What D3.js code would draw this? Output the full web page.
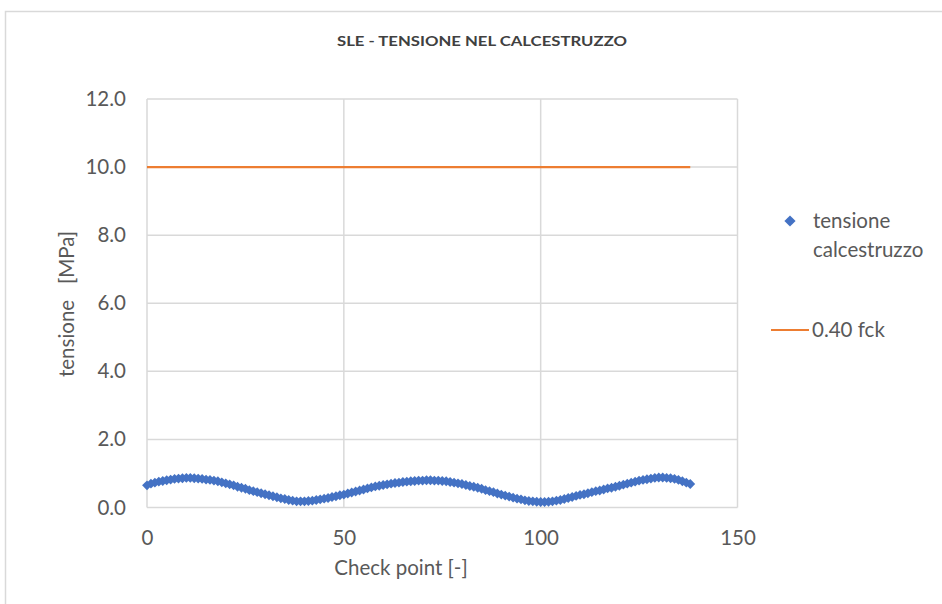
<!DOCTYPE html>
<html><head><meta charset="utf-8">
<script src="https://cdn.jsdelivr.net/npm/d3@7"></script>
<style>html,body{margin:0;padding:0;background:#fff}svg{display:block}</style>
</head><body>
<svg id="c" width="942" height="604"></svg>
<script>
const title = "SLE - TENSIONE NEL CALCESTRUZZO";
const xTicks = [0, 50, 100, 150];
const yTicks = [0, 2, 4, 6, 8, 10, 12];
const seriesNames = ["tensione", "calcestruzzo"];
const limitName = "0.40 fck";
const limitX = [0, 138];
const limitY = [10.0, 10.0];
const tensione = [
 0.65,0.70,0.73,0.76,0.78,0.80,0.82,0.84,0.85,0.86,
 0.87,0.87,0.86,0.85,0.84,0.82,0.81,0.79,0.77,0.74,
 0.71,0.68,0.65,0.61,0.58,0.55,0.51,0.48,0.45,0.42,
 0.39,0.36,0.33,0.30,0.27,0.25,0.22,0.20,0.18,0.18,
 0.18,0.19,0.20,0.22,0.24,0.26,0.28,0.31,0.33,0.36,
 0.38,0.41,0.44,0.47,0.50,0.53,0.56,0.59,0.62,0.64,
 0.66,0.68,0.70,0.72,0.73,0.75,0.76,0.77,0.78,0.79,
 0.79,0.80,0.80,0.79,0.79,0.78,0.77,0.75,0.73,0.71,
 0.69,0.66,0.63,0.61,0.58,0.55,0.51,0.48,0.45,0.41,
 0.38,0.35,0.32,0.29,0.26,0.24,0.21,0.19,0.18,0.17,
 0.16,0.16,0.17,0.18,0.20,0.22,0.25,0.28,0.31,0.34,
 0.37,0.39,0.42,0.45,0.48,0.50,0.53,0.56,0.58,0.61,
 0.64,0.67,0.70,0.73,0.76,0.79,0.81,0.83,0.85,0.87,
 0.88,0.88,0.87,0.86,0.84,0.81,0.77,0.73,0.69
];
const checkPoints = tensione.map((_, i) => i);

const svg = d3.select("#c");
const grid = "#d9d9d9", txt = "#595959";
const font = "Lato, 'Open Sans', sans-serif";
const fs = 20.5;

svg.append("path").attr("d", "M5.5,604 V11.5 H942").attr("fill", "none").attr("stroke", grid).attr("stroke-width", 1.5);

const L = 147, R = 737.5, T = 99, B = 507.5;
const x = d3.scaleLinear().domain([0, 150]).range([L, R]);
const y = d3.scaleLinear().domain([0, 12]).range([B, T]);

svg.append("g").selectAll("line").data(yTicks).join("line")
  .attr("x1", L).attr("x2", R).attr("y1", d => y(d)).attr("y2", d => y(d))
  .attr("stroke", grid).attr("stroke-width", 1.5);
svg.append("g").selectAll("line").data(xTicks).join("line")
  .attr("x1", d => x(d)).attr("x2", d => x(d)).attr("y1", T).attr("y2", B)
  .attr("stroke", grid).attr("stroke-width", 1.5);

const yAxis = svg.append("g").attr("transform", `translate(${L},0)`)
  .call(d3.axisLeft(y).tickValues(yTicks).tickFormat(d3.format(".1f")).tickSize(0).tickPadding(21));
yAxis.select(".domain").remove();
yAxis.selectAll("text").attr("fill", txt).attr("font-size", fs).attr("font-family", font);
const xAxis = svg.append("g").attr("transform", `translate(0,${B})`)
  .call(d3.axisBottom(x).tickValues(xTicks).tickFormat(d3.format("d")).tickSize(0).tickPadding(23));
xAxis.select(".domain").remove();
xAxis.selectAll("text").attr("fill", txt).attr("font-size", fs).attr("font-family", font);

svg.append("path")
  .datum(limitX.map((v, i) => [v, limitY[i]]))
  .attr("d", d3.line().x(d => x(d[0])).y(d => y(d[1])))
  .attr("stroke", "#ED7D31").attr("stroke-width", 2.2).attr("fill", "none");

const diamond = d3.symbol().type(d3.symbolDiamond2).size(62);
svg.append("g").selectAll("path").data(checkPoints).join("path")
  .attr("d", diamond)
  .attr("transform", d => `translate(${x(d)},${y(tensione[d])})`)
  .attr("fill", "#4472C4");

svg.append("text").attr("x", 482).attr("y", 46).attr("text-anchor", "middle")
  .attr("font-family", font).attr("font-weight", "bold").attr("font-size", 14)
  .attr("fill", "#404040").attr("textLength", 290).attr("lengthAdjust", "spacingAndGlyphs").text(title);

svg.append("text").attr("x", 401).attr("y", 575).attr("text-anchor", "middle")
  .attr("font-family", font).attr("font-size", fs).attr("fill", txt).text("Check point [-]");
svg.append("text").attr("transform", "translate(74,304) rotate(-90)").attr("text-anchor", "middle")
  .attr("font-family", font).attr("font-size", fs).attr("fill", txt).attr("xml:space", "preserve").text("tensione   [MPa]");

svg.append("path").attr("d", d3.symbol().type(d3.symbolDiamond2).size(80))
  .attr("transform", "translate(790,221)").attr("fill", "#4472C4");
svg.append("text").attr("x", 813).attr("y", 228).attr("font-family", font).attr("font-size", fs).attr("fill", txt).text(seriesNames[0]);
svg.append("text").attr("x", 813).attr("y", 257).attr("font-family", font).attr("font-size", fs).attr("fill", txt).text(seriesNames[1]);
svg.append("line").attr("x1", 771).attr("x2", 809).attr("y1", 330).attr("y2", 330).attr("stroke", "#ED7D31").attr("stroke-width", 2.2);
svg.append("text").attr("x", 812).attr("y", 337).attr("font-family", font).attr("font-size", fs).attr("fill", txt).text(limitName);
</script>
</body></html>
